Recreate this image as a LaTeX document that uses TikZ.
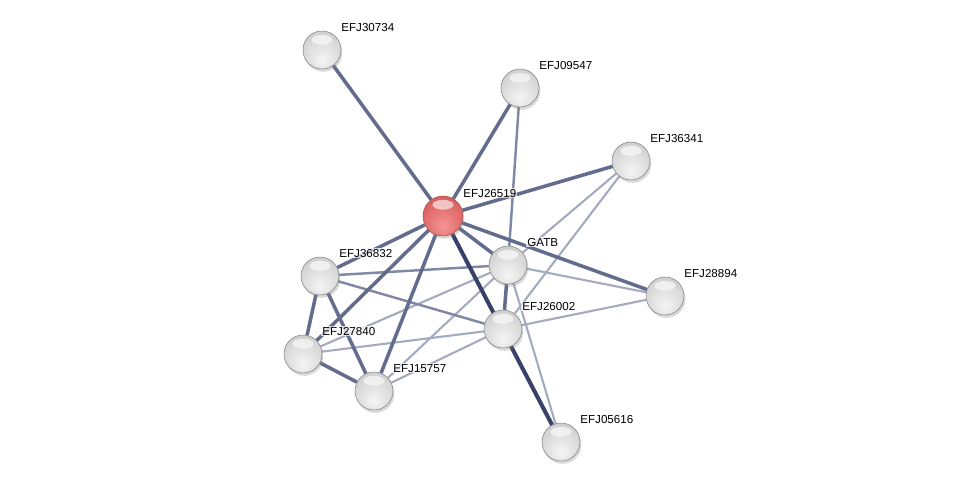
\documentclass[tikz,border=0pt]{standalone}
\usepackage{fontspec}
\newfontfamily\labelfont{Liberation Sans}
\usetikzlibrary{calc,shadows,backgrounds}

\definecolor{greyA}{RGB}{245,245,245}
\definecolor{greyB}{RGB}{222,222,222}
\definecolor{greyC}{RGB}{196,196,196}
\definecolor{greyD}{RGB}{150,150,150}
\definecolor{greyE}{RGB}{105,105,105}
\definecolor{redA}{RGB}{245,150,150}
\definecolor{redB}{RGB}{228,112,112}
\definecolor{redC}{RGB}{205,86,86}
\definecolor{redD}{RGB}{172,60,60}
\definecolor{redE}{RGB}{132,40,40}
\definecolor{edgedark}{RGB}{56,66,104}
\definecolor{edgemid}{RGB}{100,108,142}
\definecolor{edgesoft}{RGB}{128,136,166}
\definecolor{edgelight}{RGB}{164,170,192}

\pgfdeclareradialshading{greyball}{\pgfpoint{0bp}{-14bp}}{color(0bp)=(greyA); color(20bp)=(greyB); color(40bp)=(greyC); color(54bp)=(greyD); color(64bp)=(greyE)}
\pgfdeclareradialshading{redball}{\pgfpoint{0bp}{-14bp}}{color(0bp)=(redA); color(20bp)=(redB); color(40bp)=(redC); color(54bp)=(redD); color(64bp)=(redE)}

\begin{document}
\begin{tikzpicture}[x=0.02cm, y=-0.02cm,
    prot/.style={circle, minimum size=0.76cm, inner sep=0pt, shading=greyball,
        draw=black!50, line width=0.3pt,
        drop shadow={shadow xshift=0.8pt, shadow yshift=-1.6pt, opacity=0.3},
        path picture={\fill[white, opacity=0.6] ([yshift=-5pt]path picture bounding box.north) ellipse (6pt and 2.8pt);}},
    query/.style={prot, minimum size=0.8cm, shading=redball, draw=redE!80},
    lbl/.style={font=\labelfont\fontsize{6.6}{8}\selectfont, anchor=base west,
        fill=white, fill opacity=0.7, text opacity=1, inner sep=0.6pt},
    linkstrong/.style={edgedark, line width=2.3pt},
    linkmid/.style={edgemid, line width=2pt},
    linksoft/.style={edgesoft, line width=1.4pt},
    linklight/.style={edgelight, line width=1.2pt}]

    \useasboundingbox (0,0) rectangle (975,487);

    % proteins
    \node[query] (efj26519) at (443,216) {};
    \node[prot] (efj30734) at (322,50) {};
    \node[prot] (efj09547) at (520,88) {};
    \node[prot] (efj36341) at (631,161) {};
    \node[prot] (gatb) at (508,265) {};
    \node[prot] (efj36832) at (320,276) {};
    \node[prot] (efj28894) at (665,296) {};
    \node[prot] (efj26002) at (503,329) {};
    \node[prot] (efj27840) at (303,354) {};
    \node[prot] (efj15757) at (374,391) {};
    \node[prot] (efj05616) at (561,442) {};

    % labels
    \node[lbl] (efj26519-l) at ($(efj26519)+(19,-19)$) {EFJ26519};
    \node[lbl] (efj30734-l) at ($(efj30734)+(18,-19)$) {EFJ30734};
    \node[lbl] (efj09547-l) at ($(efj09547)+(18,-19)$) {EFJ09547};
    \node[lbl] (efj36341-l) at ($(efj36341)+(18,-19)$) {EFJ36341};
    \node[lbl] (gatb-l) at ($(gatb)+(18,-19)$) {GATB};
    \node[lbl] (efj36832-l) at ($(efj36832)+(18,-19)$) {EFJ36832};
    \node[lbl] (efj28894-l) at ($(efj28894)+(18,-19)$) {EFJ28894};
    \node[lbl] (efj26002-l) at ($(efj26002)+(18,-19)$) {EFJ26002};
    \node[lbl] (efj27840-l) at ($(efj27840)+(18,-19)$) {EFJ27840};
    \node[lbl] (efj15757-l) at ($(efj15757)+(18,-19)$) {EFJ15757};
    \node[lbl] (efj05616-l) at ($(efj05616)+(18,-19)$) {EFJ05616};

    % interactions
    \begin{scope}[on background layer]
        % weak ones first
        \draw[linklight] (efj36341) -- (gatb);
        \draw[linklight] (efj36341) -- (efj26002);
        \draw[linklight] (gatb) -- (efj28894);
        \draw[linklight] (gatb) -- (efj27840);
        \draw[linklight] (gatb) -- (efj15757);
        \draw[linklight] (gatb) -- (efj05616);
        \draw[linklight] (efj27840) -- (efj26002);
        \draw[linklight] (efj15757) -- (efj26002);
        \draw[linklight] (efj26002) -- (efj28894);
        \draw[linksoft] (gatb) -- (efj36832);
        \draw[linksoft] (efj36832) -- (efj26002);
        \draw[linksoft] (efj09547) -- (gatb);

        % query protein
        \draw[linkmid] (efj26519) -- (efj30734);
        \draw[linkmid] (efj26519) -- (efj09547);
        \draw[linkmid] (efj26519) -- (efj36341);
        \draw[linkmid] (efj26519) -- (efj28894);
        \draw[linkmid] (efj26519) -- (gatb);
        \draw[linkmid] (efj26519) -- (efj36832);
        \draw[linkmid] (efj26519) -- (efj27840);
        \draw[linkmid] (efj26519) -- (efj15757);
        \draw[linkstrong] (efj26519) -- (efj05616);

        % left cluster
        \draw[linkmid] (gatb) -- (efj26002);
        \draw[linkmid] (efj36832) -- (efj27840);
        \draw[linkmid] (efj36832) -- (efj15757);
        \draw[linkmid] (efj27840) -- (efj15757);
    \end{scope}
\end{tikzpicture}
\end{document}
